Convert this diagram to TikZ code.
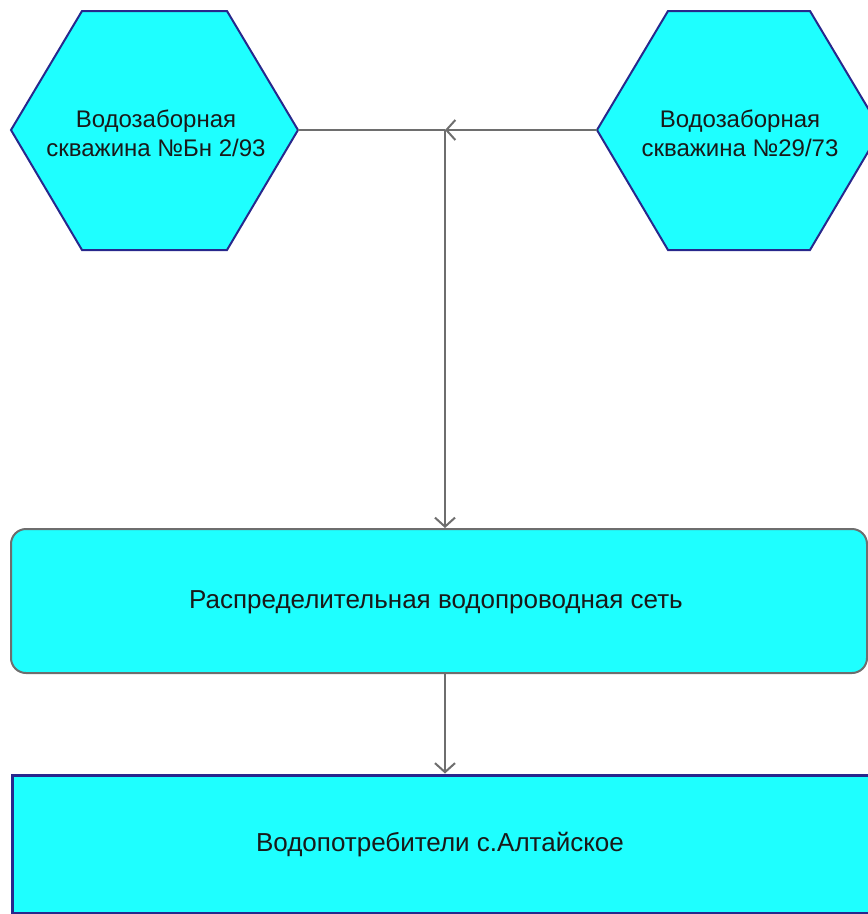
\documentclass[tikz,border=0pt]{standalone}
\usepackage{fontspec}
\setmainfont{Liberation Sans}
\usetikzlibrary{arrows.meta}
\definecolor{wellfill}{RGB}{30,255,255}
\definecolor{navyline}{RGB}{40,40,140}
\definecolor{pipegray}{RGB}{110,110,110}
\begin{document}
\begin{tikzpicture}[x=1pt,y=-1pt,
  caption/.style={font=\fontsize{24}{29}\selectfont, align=center, text=black!90, inner sep=0pt},
  bigcaption/.style={caption, font=\fontsize{26}{31}\selectfont},
  hexa/.style={fill=wellfill, draw=navyline, line width=2pt, line join=miter},
  pipe/.style={draw=pipegray, line width=2pt},
  tipped/.style={-{Straight Barb[length=9pt,width=20pt,line width=2pt]}},
  netbox/.style={rectangle, rounded corners=15pt, fill=wellfill, draw=pipegray, line width=2pt,
    minimum width=856pt, minimum height=144pt, inner sep=0pt},
  userbox/.style={rectangle, fill=wellfill, draw=navyline, line width=3pt,
    minimum width=868pt, minimum height=138pt, inner sep=0pt}]
  \useasboundingbox (0,0) rectangle (868,914);
  \clip (0,0) rectangle (868,914);

  % well hexagons with their side vertices
  \draw[hexa] (11,130) coordinate (wellA-w) -- (82,11) -- (227,11)
    -- (298,130) coordinate (wellA-e) -- (227,250) -- (82,250) -- cycle;
  \draw[hexa] (597,130) coordinate (wellB-w) -- (668,11) -- (810,11)
    -- (881,130) coordinate (wellB-e) -- (810,250) -- (668,250) -- cycle;
  \node[caption] (wellA) at (156,133) {Водозаборная\\скважина №Бн 2/93};
  \node[caption] (wellB) at (740,133) {Водозаборная\\скважина №29/73};

  % distribution network and consumers
  \node[netbox] (net) at (439,601) {};
  \node[bigcaption] (netlabel) at (436,602) {Распределительная водопроводная сеть};
  \node[userbox] (users) at (446,844) {};
  \node[bigcaption] (userlabel) at (440,845) {Водопотребители с.Алтайское};

  % pipelines
  \coordinate (J) at (445,130);
  \draw[pipe] (wellA-e) -- (J);
  \draw[pipe, tipped] (wellB-w) -- (J);
  \draw[pipe, tipped] (J) -- (J |- net.north);
  \draw[pipe, tipped] (J |- net.south) -- (J |- users.north);
\end{tikzpicture}
\end{document}
